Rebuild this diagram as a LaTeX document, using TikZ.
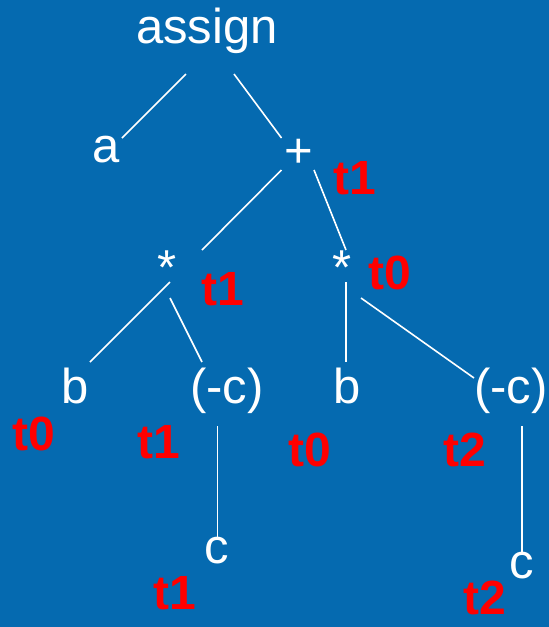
\documentclass[tikz,border=0pt]{standalone}
\usepackage{fontspec}
\setmainfont{Liberation Sans}
\definecolor{bgblue}{RGB}{5,106,176}
\definecolor{tred}{RGB}{255,0,0}
\begin{document}
\begin{tikzpicture}[x=1pt,y=-1pt,
  lbl/.style={text=white,font=\fontsize{49}{52}\selectfont,anchor=base,inner sep=0pt},
  reg/.style={text=tred,font=\fontsize{48}{50}\selectfont\bfseries,anchor=center,inner sep=0pt},
  edge/.style={draw=white,line width=1.6pt}]
\fill[bgblue] (0,0) rectangle (549,627);
\useasboundingbox (0,0) rectangle (549,627);
% tree labels
\node[lbl] (assign) at (207,43) {assign};
\node[lbl] (a) at (106,162) {a};
\node[lbl] (plus) at (299,167) {+};
\node[lbl] (mulL) at (167,284) {*};
\node[lbl] (mulR) at (342,284) {*};
\node[lbl] (bL) at (75,403) {b};
\node[lbl] (ncL) at (227,403) {(-c)};
\node[lbl] (bR) at (347,403) {b};
\node[lbl] (ncR) at (511,403) {(-c)};
\node[lbl] (cL) at (217,563) {c};
\node[lbl] (cR) at (522,578) {c};
% register labels
\node[reg] (r1) at (355,178) {t1};
\node[reg] (r2) at (223,289) {t1};
\node[reg] (r3) at (390,273) {t0};
\node[reg] (r4) at (34,434) {t0};
\node[reg] (r5) at (159,442) {t1};
\node[reg] (r6) at (310,450) {t0};
\node[reg] (r7) at (465,450) {t2};
\node[reg] (r8) at (175,593) {t1};
\node[reg] (r9) at (485,598) {t2};
% connector end points
\coordinate (e1a) at (186,74);    \coordinate (e1b) at (122,138);
\coordinate (e2a) at (234,74);    \coordinate (e2b) at (281.5,138);
\coordinate (e3a) at (281.5,170); \coordinate (e3b) at (202,250);
\coordinate (e4a) at (314,170);   \coordinate (e4b) at (346,250);
\coordinate (e5a) at (170,282);   \coordinate (e5b) at (90,362);
\coordinate (e6a) at (170,298);   \coordinate (e6b) at (202,362);
\coordinate (e7a) at (346,282);   \coordinate (e7b) at (346,362);
\coordinate (e8a) at (361,298);   \coordinate (e8b) at (474,378);
\coordinate (e9a) at (217.5,426); \coordinate (e9b) at (217.5,537);
\coordinate (e10a) at (522,426);  \coordinate (e10b) at (522,553);
\draw[edge] (e1a) -- (e1b);
\draw[edge] (e2a) -- (e2b);
\draw[edge] (e3a) -- (e3b);
\draw[edge] (e4a) -- (e4b);
\draw[edge] (e5a) -- (e5b);
\draw[edge] (e6a) -- (e6b);
\draw[edge] (e7a) -- (e7b);
\draw[edge] (e8a) -- (e8b);
\draw[edge] (e9a) -- (e9b);
\draw[edge] (e10a) -- (e10b);
\end{tikzpicture}
\end{document}
